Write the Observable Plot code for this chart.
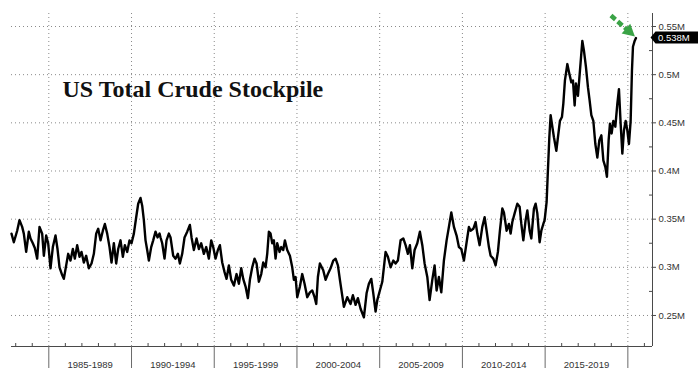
<!DOCTYPE html>
<html><head><meta charset="utf-8">
<script src="https://cdn.jsdelivr.net/npm/d3@7"></script>
<script src="https://cdn.jsdelivr.net/npm/@observablehq/plot@0.6"></script>
<style>
html,body{margin:0;padding:0;background:#fff;}
#chart{width:698px;height:388px;overflow:hidden;}
</style></head><body><div id="chart"></div>
<script>
const title = "US Total Crude Stockpile";

// decimal year of each reading
const years = [
1982.745,1982.886,1983.088,1983.229,1983.390,1983.490,1983.632,1983.793,1983.894,1984.034,
1984.155,1984.297,1984.438,1984.599,1984.700,1984.841,1984.962,1985.103,1985.244,1985.405,
1985.526,1985.647,1985.808,1985.909,1986.050,1986.171,1986.312,1986.453,1986.574,1986.715,
1986.856,1986.977,1987.118,1987.259,1987.420,1987.582,1987.723,1987.864,1987.985,1988.126,
1988.267,1988.388,1988.529,1988.670,1988.791,1988.932,1989.073,1989.194,1989.335,1989.476,
1989.597,1989.738,1989.879,1990.000,1990.141,1990.282,1990.403,1990.544,1990.645,1990.745,
1990.846,1990.947,1991.048,1991.189,1991.310,1991.451,1991.572,1991.693,1991.753,1991.854,
1991.995,1992.116,1992.257,1992.358,1992.519,1992.660,1992.801,1992.922,1993.063,1993.204,
1993.366,1993.527,1993.628,1993.768,1993.930,1994.071,1994.212,1994.373,1994.514,1994.675,
1994.817,1994.937,1995.079,1995.220,1995.341,1995.482,1995.623,1995.744,1995.885,1996.026,
1996.187,1996.348,1996.489,1996.631,1996.752,1996.893,1997.034,1997.155,1997.296,1997.437,
1997.558,1997.698,1997.840,1997.960,1998.101,1998.202,1998.303,1998.404,1998.505,1998.605,
1998.706,1998.807,1998.948,1999.049,1999.170,1999.270,1999.411,1999.573,1999.714,1999.814,
1999.915,2000.016,2000.177,2000.318,2000.459,2000.621,2000.782,2000.923,2001.064,2001.165,
2001.265,2001.386,2001.588,2001.729,2001.870,2002.031,2002.193,2002.334,2002.475,2002.596,
2002.836,2003.041,2003.240,2003.380,2003.543,2003.682,2003.845,2004.045,2004.208,2004.347,
2004.492,2004.613,2004.752,2004.855,2005.012,2005.157,2005.357,2005.496,2005.659,2005.822,
2005.961,2006.100,2006.263,2006.427,2006.566,2006.705,2006.826,2006.971,2007.110,2007.273,
2007.430,2007.576,2007.715,2007.878,2008.017,2008.180,2008.319,2008.440,2008.579,2008.724,
2008.881,2009.045,2009.184,2009.329,2009.486,2009.649,2009.788,2009.933,2010.091,2010.254,
2010.393,2010.496,2010.659,2010.798,2010.901,2011.040,2011.203,2011.342,2011.463,2011.602,
2011.705,2011.868,2012.007,2012.146,2012.267,2012.412,2012.509,2012.672,2012.811,2012.914,
2013.017,2013.156,2013.319,2013.458,2013.561,2013.682,2013.821,2013.924,2014.063,2014.166,
2014.323,2014.426,2014.528,2014.667,2014.770,2014.891,2014.970,2015.091,2015.169,2015.254,
2015.333,2015.435,2015.532,2015.677,2015.774,2015.895,2016.016,2016.100,2016.197,2016.342,
2016.463,2016.584,2016.681,2016.784,2016.862,2016.983,2017.104,2017.249,2017.346,2017.467,
2017.588,2017.691,2017.793,2017.914,2018.035,2018.156,2018.277,2018.398,2018.519,2018.640,
2018.736,2018.839,2018.918,2019.020,2019.123,2019.244,2019.365,2019.462,2019.565,2019.667,
2019.764,2019.867,2019.970,2020.067,2020.169,2020.248,2020.309,2020.411,2020.490
];

// stockpile, in the chart's "M" units
const stocks = [
0.335,0.326,0.338,0.349,0.342,0.335,0.316,0.337,0.330,0.325,
0.320,0.309,0.342,0.335,0.312,0.333,0.325,0.299,0.321,0.333,
0.319,0.300,0.292,0.288,0.302,0.314,0.307,0.319,0.309,0.323,
0.311,0.316,0.305,0.312,0.299,0.304,0.314,0.335,0.340,0.328,
0.338,0.345,0.335,0.321,0.305,0.325,0.304,0.319,0.328,0.311,
0.323,0.316,0.328,0.325,0.335,0.352,0.366,0.372,0.364,0.349,
0.328,0.318,0.307,0.321,0.328,0.337,0.331,0.335,0.331,0.325,
0.309,0.328,0.335,0.331,0.312,0.309,0.314,0.304,0.314,0.331,
0.337,0.344,0.331,0.318,0.330,0.319,0.325,0.314,0.321,0.309,
0.328,0.321,0.309,0.318,0.323,0.305,0.295,0.288,0.302,0.287,
0.281,0.293,0.283,0.299,0.288,0.280,0.268,0.287,0.300,0.309,
0.304,0.285,0.293,0.305,0.300,0.314,0.337,0.335,0.325,0.328,
0.309,0.325,0.316,0.321,0.318,0.328,0.318,0.312,0.300,0.287,
0.290,0.269,0.280,0.293,0.283,0.269,0.274,0.276,0.269,0.262,
0.290,0.304,0.297,0.287,0.293,0.299,0.307,0.309,0.302,0.287,
0.259,0.269,0.262,0.271,0.261,0.268,0.257,0.248,0.273,0.283,
0.288,0.273,0.254,0.266,0.276,0.285,0.316,0.311,0.300,0.307,
0.304,0.307,0.328,0.330,0.323,0.314,0.323,0.299,0.318,0.325,
0.337,0.323,0.304,0.290,0.266,0.287,0.302,0.276,0.290,0.274,
0.307,0.328,0.342,0.357,0.342,0.333,0.321,0.319,0.307,0.326,
0.342,0.338,0.340,0.347,0.335,0.323,0.342,0.352,0.338,0.321,
0.312,0.309,0.302,0.316,0.338,0.361,0.357,0.338,0.345,0.335,
0.347,0.356,0.366,0.363,0.345,0.328,0.349,0.359,0.338,0.330,
0.361,0.366,0.356,0.326,0.338,0.345,0.349,0.368,0.401,0.435,
0.458,0.446,0.435,0.421,0.435,0.452,0.456,0.470,0.494,0.511,
0.501,0.492,0.494,0.468,0.491,0.478,0.504,0.535,0.525,0.508,
0.487,0.473,0.458,0.452,0.428,0.414,0.432,0.437,0.411,0.404,
0.394,0.432,0.449,0.439,0.452,0.446,0.470,0.485,0.449,0.418,
0.442,0.452,0.442,0.428,0.452,0.504,0.529,0.535,0.538
];

const periodStarts = [1985, 1990, 1995, 2000, 2005, 2010, 2015, 2020];
const periodLabels = ["1985-1989", "1990-1994", "1995-1999", "2000-2004", "2005-2009", "2010-2014", "2015-2019"];
const minorYears = [1983, 1984, 1986, 1987, 1988, 1989, 1991, 1992, 1993, 1994, 1996, 1997, 1998, 1999,
  2001, 2002, 2003, 2004, 2006, 2007, 2008, 2009, 2011, 2012, 2013, 2014, 2016, 2017, 2018, 2019, 2021];
const yTicks = [0.25, 0.3, 0.35, 0.4, 0.45, 0.5, 0.55];
const yTickLabels = ["0.25M", "0.3M", "0.35M", "0.4M", "0.45M", "0.5M", "0.55M"];
const yMinor = [0.275, 0.325, 0.375, 0.425, 0.475, 0.525];

const xDomain = [1982.745, 2021.49];
const yDomain = [0.2178, 0.5635];

const data = years.map((t, i) => ({t, v: stocks[i]}));
const last = data[data.length - 1];
const lastLabel = `${last.v}M`;

const W = 698, H = 388, mL = 11, mR = 46, mT = 13, mB = 42;
const frameW = W - mL - mR, frameH = H - mT - mB;

function lastMarker(index, scales, values, dimensions) {
  const px = scales.x(last.t), py = scales.y(last.v);
  const ax = dimensions.width - dimensions.marginRight;
  const g = d3.create("svg:g");
  // green dashed arrow pointing at the latest reading
  const tipX = px - 0.5, tipY = py - 1;
  const sx = tipX - 24, sy = tipY - 21;
  const len = Math.hypot(tipX - sx, tipY - sy);
  const ux = (tipX - sx) / len, uy = (tipY - sy) / len;
  const hl = 12, hw = 6.5;
  const bx = tipX - ux * hl, by = tipY - uy * hl;
  g.append("line")
    .attr("x1", sx).attr("y1", sy).attr("x2", bx + ux * 1).attr("y2", by + uy * 1)
    .attr("stroke", "#3aa346").attr("stroke-width", 4.5)
    .attr("stroke-dasharray", "6,3");
  g.append("path")
    .attr("d", `M${tipX},${tipY} L${bx - uy * hw},${by + ux * hw} L${bx + uy * hw},${by - ux * hw} Z`)
    .attr("fill", "#3aa346");
  // black value flag on the axis
  g.append("path")
    .attr("d", `M${ax - 1.5},${py} L${ax + 3.5},${py - 6} H${W} V${py + 6} H${ax + 3.5} Z`)
    .attr("fill", "#000");
  g.append("text")
    .attr("x", ax + 6).attr("y", py).attr("dy", "0.35em")
    .attr("text-anchor", "start")
    .attr("fill", "#fff").attr("font-size", 9.5)
    .attr("font-family", "Liberation Sans, Arial, sans-serif")
    .text(lastLabel);
  return g.node();
}

const chart = Plot.plot({
  width: W, height: H,
  marginLeft: mL, marginRight: mR, marginTop: mT, marginBottom: mB,
  style: {fontFamily: "Liberation Sans, Arial, sans-serif", fontSize: "9.5px", background: "#fff", overflow: "visible"},
  x: {type: "linear", domain: xDomain},
  y: {type: "linear", domain: yDomain},
  marks: [
    Plot.ruleY(yTicks, {stroke: "#8a8a8a", strokeDasharray: "1,3"}),
    Plot.ruleX(periodStarts, {stroke: "#8a8a8a", strokeDasharray: "1,3"}),
    Plot.ruleY([yDomain[0]], {stroke: "#4a4a4a"}),
    Plot.ruleX([xDomain[1]], {stroke: "#4a4a4a"}),
    Plot.tickX(minorYears, {x: d => d, insetTop: frameH - 3, stroke: "#4a4a4a"}),
    Plot.tickY(yMinor, {y: d => d, insetLeft: frameW - 3, stroke: "#4a4a4a"}),
    Plot.axisX(periodStarts, {tickSize: 22, tickFormat: () => "", stroke: "#6a6a6a", label: null}),
    Plot.text(periodLabels, {x: (d, i) => periodStarts[i] + 2.5, frameAnchor: "bottom", dy: 18,
      fill: "#333", fontSize: 9.5, textAnchor: "middle", lineAnchor: "middle"}),
    Plot.axisY(yTicks, {anchor: "right", tickSize: 3, tickPadding: 3, stroke: "#4a4a4a", label: null,
      tickFormat: d => yTickLabels[yTicks.indexOf(d)], fill: "#333", fontSize: 9.5}),
    Plot.text([title], {frameAnchor: "top-left", dx: 51, dy: 76, textAnchor: "start", lineAnchor: "middle",
      fontFamily: "Liberation Serif, Times New Roman, serif", fontWeight: "bold", fontSize: 24, fill: "#111"}),
    Plot.line(data, {x: "t", y: "v", stroke: "#000", strokeWidth: 2.4, strokeLinejoin: "round", strokeLinecap: "round"}),
    lastMarker
  ]
});
document.getElementById("chart").appendChild(chart);
</script>
</body></html>
